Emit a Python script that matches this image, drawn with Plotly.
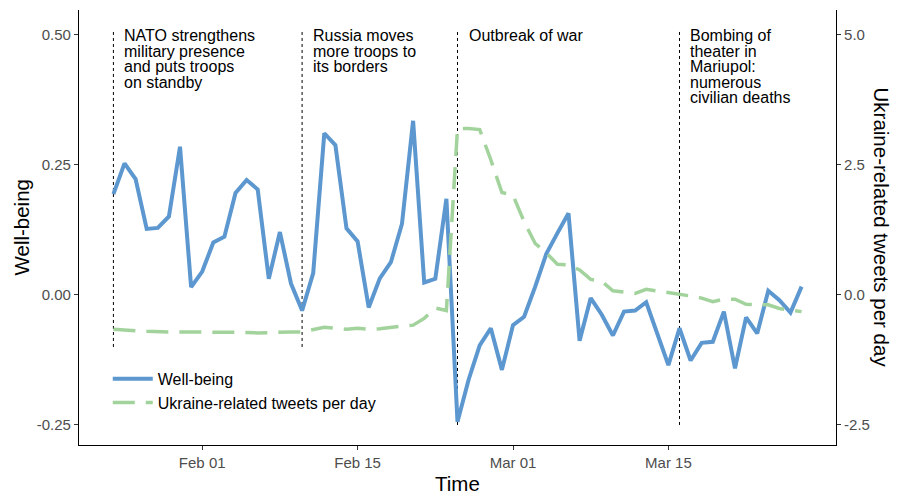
import plotly.graph_objects as go
import pandas as pd

# ---------------- data ----------------
dates = pd.date_range("2022-01-24", "2022-03-27", freq="D")

wellbeing = [
    0.194, 0.253, 0.223, 0.127, 0.129, 0.151, 0.285, 0.015, 0.045, 0.101,
    0.112, 0.196, 0.221, 0.203, 0.031, 0.121, 0.022, -0.030, 0.042, 0.311,
    0.288, 0.128, 0.103, -0.024, 0.032, 0.063, 0.137, 0.335, 0.024, 0.031,
    0.185, -0.244, -0.163, -0.097, -0.064, -0.144, -0.058, -0.042, 0.016, 0.079,
    0.119, 0.157, -0.088, -0.006, -0.038, -0.078, -0.032, -0.030, -0.014, -0.074,
    -0.135, -0.064, -0.126, -0.092, -0.090, -0.032, -0.141, -0.043, -0.074, 0.008,
    -0.010, -0.034, 0.016,
]

tweets_per_day = [
    -0.66, -0.68, -0.69, -0.70, -0.71, -0.71, -0.71, -0.71, -0.71, -0.71,
    -0.71, -0.72, -0.72, -0.73, -0.72, -0.71, -0.71, -0.71, -0.67, -0.62,
    -0.64, -0.66, -0.64, -0.66, -0.65, -0.62, -0.60, -0.58, -0.45, -0.25,
    -0.30, 3.20, 3.20, 3.18, 2.60, 1.97, 1.92, 1.41, 0.99, 0.81,
    0.59, 0.58, 0.48, 0.30, 0.26, 0.08, 0.05, 0.03, 0.11, 0.08,
    0.05, 0.02, -0.02, -0.06, -0.13, -0.08, -0.08, -0.18, -0.18, -0.19,
    -0.26, -0.29, -0.32,
]

event_dates = ["2022-01-24", "2022-02-10", "2022-02-24", "2022-03-16"]
event_bottoms = [-0.10, -0.10, -0.25, -0.25]
event_top = 0.51
event_labels = [
    ["NATO strengthens", "military presence", "and puts troops", "on standby"],
    ["Russia moves", "more troops to", "its borders"],
    ["Outbreak of war"],
    ["Bombing of", "theater in", "Mariupol:", "numerous", "civilian deaths"],
]

x_tick_vals = ["2022-02-01", "2022-02-15", "2022-03-01", "2022-03-15"]
x_tick_text = ["Feb 01", "Feb 15", "Mar 01", "Mar 15"]
y_tick_vals = [-0.25, 0.0, 0.25, 0.50]
y_tick_text = ["-0.25", "0.00", "0.25", "0.50"]
y2_tick_vals = [-2.5, 0.0, 2.5, 5.0]
y2_tick_text = ["-2.5", "0.0", "2.5", "5.0"]

# ---------------- style ----------------
FONT = "Liberation Sans, Arial, sans-serif"
BLUE = "#5C97CF"
GREEN = "#A3D39C"
# page body has an 8px margin, so the figure is drawn 8px in from the corner
W, H = 900, 496
ML, MR, MT, MB = 71, 72, 2, 59
PW, PH = W - ML - MR, H - MT - MB

fig = go.Figure()
fig.add_trace(go.Scatter(
    x=dates, y=wellbeing, mode="lines", name="Well-being",
    line=dict(color=BLUE, width=4), yaxis="y",
))
fig.add_trace(go.Scatter(
    x=dates, y=tweets_per_day, mode="lines", name="Ukraine-related tweets per day",
    line=dict(color=GREEN, width=3.5, dash="22px,11px"), yaxis="y2",
))

shapes = []
annotations = []
for d, yb, lines in zip(event_dates, event_bottoms, event_labels):
    shapes.append(dict(type="line", xref="x", yref="y", x0=d, x1=d, y0=yb, y1=event_top,
                       line=dict(color="black", width=1, dash="dot"), layer="below"))
    for i, t in enumerate(lines):
        ypix = 28 + 15.4 * i   # within the figure (page offset removed)
        annotations.append(dict(
            x=d, xref="x", xanchor="left", xshift=9,
            y=(H - MB - ypix) / PH, yref="paper", yanchor="middle",
            text=t, showarrow=False, align="left",
            font=dict(family=FONT, size=16, color="black"),
        ))

# axis titles
annotations.append(dict(text="Time", x=0.5, xref="paper", y=0, yref="paper",
                        yanchor="middle", yshift=-38, showarrow=False,
                        font=dict(family=FONT, size=20.5, color="black")))
annotations.append(dict(text="Well-being", x=0, xref="paper", xshift=-58,
                        y=0.5, yref="paper", textangle=-90, showarrow=False,
                        xanchor="center", yanchor="middle",
                        font=dict(family=FONT, size=20.5, color="black")))
annotations.append(dict(text="Ukraine-related tweets per day", x=1, xref="paper", xshift=45,
                        y=0.5, yref="paper", textangle=90, showarrow=False,
                        xanchor="center", yanchor="middle",
                        font=dict(family=FONT, size=20.5, color="black")))

tickfont = dict(family=FONT, size=15, color="#4D4D4D")
common_axis = dict(showgrid=False, zeroline=False, showline=True, linecolor="black",
                   linewidth=1.2, ticks="outside", ticklen=4, tickcolor="#333333",
                   tickwidth=1, tickfont=tickfont)

fig.update_layout(
    width=W, height=H,
    margin=dict(l=ML, r=MR, t=MT, b=MB, pad=0),
    paper_bgcolor="white", plot_bgcolor="white",
    font=dict(family=FONT, color="black"),
    xaxis=dict(range=["2022-01-20 21:36", "2022-03-30 02:24"], type="date",
               tickvals=x_tick_vals, ticktext=x_tick_text, **common_axis),
    yaxis=dict(range=[-0.2885, 0.548], tickvals=y_tick_vals, ticktext=y_tick_text,
               **common_axis),
    yaxis2=dict(range=[-2.885, 5.48], tickvals=y2_tick_vals, ticktext=y2_tick_text,
                overlaying="y", side="right", **common_axis),
    legend=dict(x=0.038, y=0.191, xanchor="left", yanchor="top",
                bgcolor="rgba(0,0,0,0)", font=dict(family=FONT, size=16, color="black"),
                itemwidth=40, tracegroupgap=0),
    shapes=shapes,
    annotations=annotations,
)

fig.write_html("out.html")
